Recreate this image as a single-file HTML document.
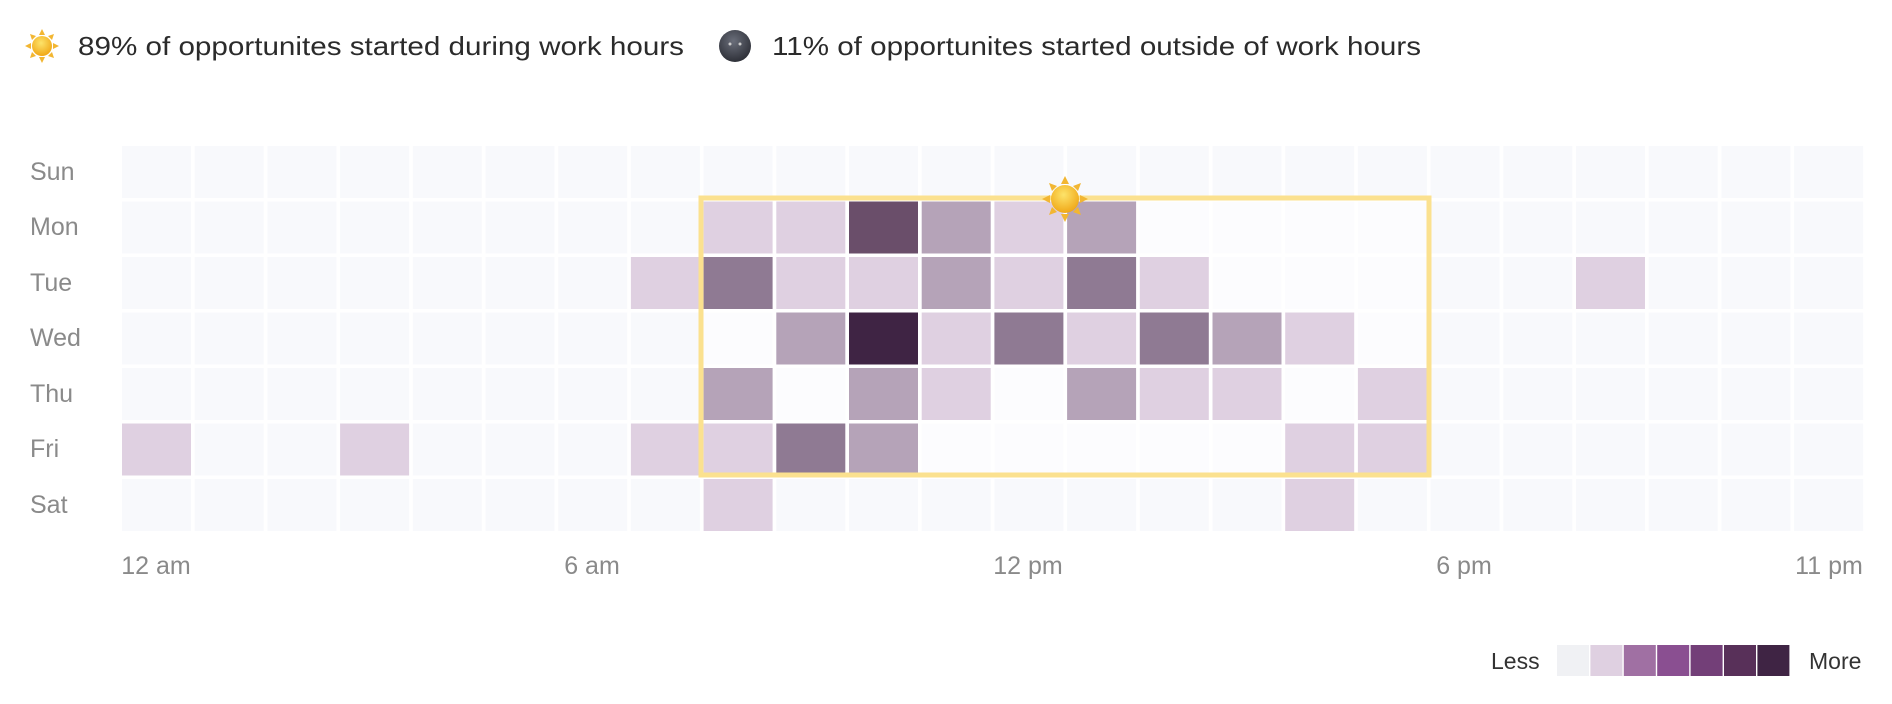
<!DOCTYPE html>
<html><head><meta charset="utf-8"><style>
html,body{margin:0;padding:0;background:#fff;}
svg{display:block;}
</style></head><body>
<svg id="s" width="1892" height="704" xmlns="http://www.w3.org/2000/svg" font-family="Liberation Sans, sans-serif">
<defs>
<radialGradient id="sg" cx="45%" cy="35%" r="65%"><stop offset="0" stop-color="#fde36a"/><stop offset="1" stop-color="#f0a818"/></radialGradient>
<radialGradient id="mg" cx="45%" cy="35%" r="65%"><stop offset="0" stop-color="#6a6e7a"/><stop offset="1" stop-color="#2e3038"/></radialGradient>
</defs>
<g id="hdr">
<g transform="translate(42,46)">
<g fill="#f2b632">
<polygon points="0,-17 -3,-11 3,-11"/><polygon points="0,17 -3,11 3,11"/>
<polygon points="-17,0 -11,-3 -11,3"/><polygon points="17,0 11,-3 11,3"/>
<polygon points="-12,-12 -10,-6 -6,-10"/><polygon points="12,-12 10,-6 6,-10"/>
<polygon points="-12,12 -10,6 -6,10"/><polygon points="12,12 10,6 6,10"/>
</g>
<circle r="10" fill="url(#sg)"/>
</g>
<text x="78" y="55" font-size="26" fill="#2b2b2b" textLength="606" lengthAdjust="spacingAndGlyphs">89% of opportunites started during work hours</text>
<circle cx="735" cy="46" r="16" fill="url(#mg)"/>
<circle cx="730" cy="44" r="1.5" fill="#ccc"/><circle cx="740" cy="44" r="1.5" fill="#ccc"/>
<text x="772" y="55" font-size="26" fill="#2b2b2b" textLength="649" lengthAdjust="spacingAndGlyphs">11% of opportunites started outside of work hours</text>
</g>
<g id="grid"></g>
<rect x="701" y="198" width="728" height="277" fill="none" stroke="#fbe18f" stroke-width="5"/>
<g transform="translate(1065,199)">
<g fill="#f2b632">
<polygon points="0,-23 -4,-15 4,-15"/><polygon points="0,23 -4,15 4,15"/>
<polygon points="-23,0 -15,-4 -15,4"/><polygon points="23,0 15,-4 15,4"/>
<polygon points="-16,-16 -13,-8 -8,-13"/><polygon points="16,-16 13,-8 8,-13"/>
<polygon points="-16,16 -13,8 -8,13"/><polygon points="16,16 13,8 8,13"/>
</g>
<circle r="14" fill="url(#sg)"/>
</g>
<g font-size="25" fill="#8a8a8a">
<text x="30" y="180">Sun</text><text x="30" y="235">Mon</text><text x="30" y="291">Tue</text>
<text x="30" y="346">Wed</text><text x="30" y="402">Thu</text><text x="30" y="457">Fri</text><text x="30" y="513">Sat</text>
</g>
<g font-size="25" fill="#8a8a8a" text-anchor="middle">
<text x="156" y="574">12 am</text><text x="592" y="574">6 am</text><text x="1028" y="574">12 pm</text>
<text x="1464" y="574">6 pm</text><text x="1829" y="574">11 pm</text>
</g>
<text x="1491" y="669" font-size="23" fill="#333">Less</text>
<text x="1809" y="669" font-size="23" fill="#333">More</text>
<g id="leg"></g>
</svg>
<script>
var C=['#f8f9fc','#dfd0e1','#b5a3b8','#8f7a93','#6a4e6a','#3f2444'];
var d={1:{8:1,9:1,10:4,11:2,12:1,13:2},2:{7:1,8:3,9:1,10:1,11:2,12:1,13:3,14:1,20:1},
3:{9:2,10:5,11:1,12:3,13:1,14:3,15:2,16:1},4:{8:2,10:2,11:1,13:2,14:1,15:1,17:1},
5:{0:1,3:1,7:1,8:1,9:3,10:2,16:1,17:1},6:{8:1,16:1}};
var g=document.getElementById('grid'),h='';
for(var r=0;r<7;r++)for(var c=0;c<24;c++){
var v=(d[r]&&d[r][c])||0;var col=C[v];
if(!v&&r>=1&&r<=5&&c>=8&&c<=17)col='#fcfcfe';
var x=122+c*72.7,y=146+r*55.5;
h+='<rect x="'+x.toFixed(1)+'" y="'+y.toFixed(1)+'" width="69" height="52" fill="'+col+'"/>';}
g.innerHTML=h;
var L=['#f0f1f4','#dfd0e1','#a070a3','#8a4f91','#733f78','#583059','#3f2444'],lh='';
for(var i=0;i<7;i++)lh+='<rect x="'+(1557+i*33.4).toFixed(1)+'" y="645" width="32" height="31" fill="'+L[i]+'"/>';
document.getElementById('leg').innerHTML=lh;
</script>
</body></html>
